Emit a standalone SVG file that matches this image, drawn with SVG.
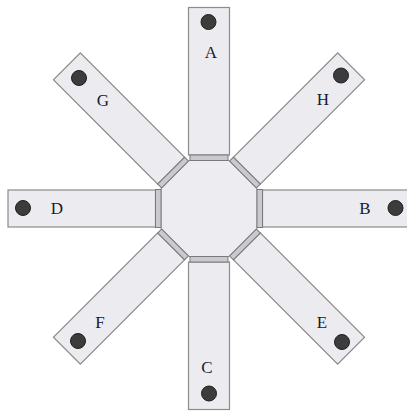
<svg xmlns="http://www.w3.org/2000/svg" width="407" height="414" viewBox="0 0 407 414">
<style>
.arm{fill:#ececf0;stroke:#8c8c8c;stroke-width:1.2}
.hub{fill:#ededf1;stroke:#8c8c8c;stroke-width:1}
.band{fill:#c9c9d0;stroke:#7a7a7a;stroke-width:1}
.dot{fill:#3c3c3c;stroke:#1e1e1e;stroke-width:1}
.lbl{font-family:"Liberation Serif","Times New Roman",serif;font-size:17px;fill:#1a1a2a;text-anchor:middle}
</style>
<rect width="407" height="414" fill="#ffffff"/>
<g transform="translate(209,208.5)">
<g id="arm-A"><rect class="arm" x="-20.5" y="-201" width="41" height="147.5"/></g>
<g id="arm-C" transform="rotate(180)"><rect class="arm" x="-20.5" y="-201" width="41" height="147.5"/></g>
<g id="arm-B" transform="rotate(90)"><rect class="arm" x="-18.5" y="-201" width="37" height="147.5"/></g>
<g id="arm-D" transform="rotate(-90)"><rect class="arm" x="-18.5" y="-201" width="37" height="147.5"/></g>
<g id="arm-H" transform="rotate(45)"><rect class="arm" x="-19" y="-201" width="38" height="147.5"/></g>
<g id="arm-E" transform="rotate(135)"><rect class="arm" x="-19" y="-201" width="38" height="147.5"/></g>
<g id="arm-F" transform="rotate(225)"><rect class="arm" x="-19" y="-201" width="38" height="147.5"/></g>
<g id="arm-G" transform="rotate(315)"><rect class="arm" x="-19" y="-201" width="38" height="147.5"/></g>
<g id="hub">
<polygon class="hub" points="19.88,-48 48,-19.88 48,19.88 19.88,48 -19.88,48 -48,19.88 -48,-19.88 -19.88,-48"/>
<g id="bands">
<rect class="band" x="-19" y="-53.5" width="38" height="5.5"/>
<rect class="band" x="-19" y="-53.5" width="38" height="5.5" transform="rotate(45)"/>
<rect class="band" x="-19" y="-53.5" width="38" height="5.5" transform="rotate(90)"/>
<rect class="band" x="-19" y="-53.5" width="38" height="5.5" transform="rotate(135)"/>
<rect class="band" x="-19" y="-53.5" width="38" height="5.5" transform="rotate(180)"/>
<rect class="band" x="-19" y="-53.5" width="38" height="5.5" transform="rotate(225)"/>
<rect class="band" x="-19" y="-53.5" width="38" height="5.5" transform="rotate(270)"/>
<rect class="band" x="-19" y="-53.5" width="38" height="5.5" transform="rotate(315)"/>
</g>
</g>
</g>
<g id="node-A"><circle class="dot" cx="208.5" cy="22" r="7.5"/><text class="lbl" x="211" y="58">A</text></g>
<g id="node-B"><circle class="dot" cx="395.5" cy="208" r="7.5"/><text class="lbl" x="365" y="214">B</text></g>
<g id="node-C"><circle class="dot" cx="209" cy="393.5" r="7.5"/><text class="lbl" x="207" y="373">C</text></g>
<g id="node-D"><circle class="dot" cx="23" cy="208" r="7.5"/><text class="lbl" x="57" y="214">D</text></g>
<g id="node-E"><circle class="dot" cx="342" cy="342" r="7.5"/><text class="lbl" x="322" y="328">E</text></g>
<g id="node-F"><circle class="dot" cx="78" cy="341" r="7.5"/><text class="lbl" x="100" y="328">F</text></g>
<g id="node-G"><circle class="dot" cx="79" cy="78" r="7.5"/><text class="lbl" x="103" y="106">G</text></g>
<g id="node-H"><circle class="dot" cx="341" cy="75.5" r="7.5"/><text class="lbl" x="323" y="105">H</text></g>
</svg>
